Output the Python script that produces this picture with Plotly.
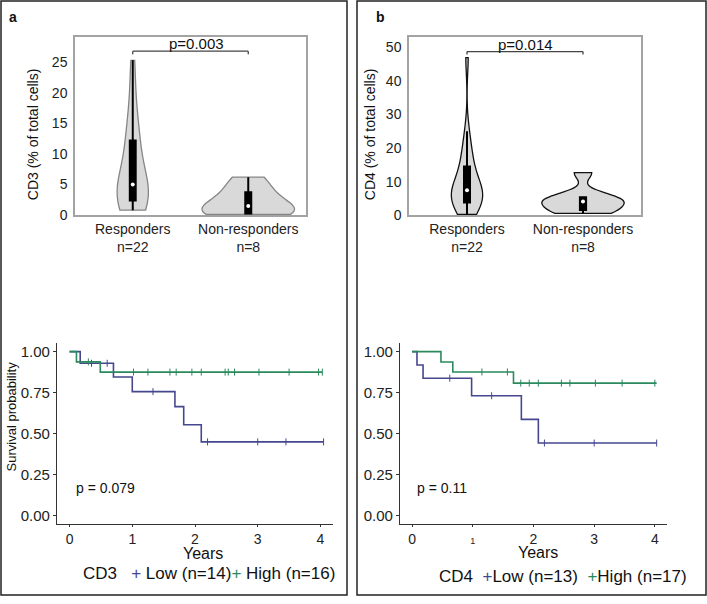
import numpy as np
import plotly.graph_objects as go

# ---------------- data ----------------
groups = ["Responders", "Non-responders"]
group_n = [22, 8]

cd3_responders = [0.8, 1.0, 1.4, 1.8, 2.2, 2.4, 2.6, 3.2, 3.8, 4.5, 4.9,
                  5.1, 5.8, 6.8, 8.5, 11.0, 12.2, 13.0, 14.0, 17.0, 21.0, 25.3]
cd3_nonresponders = [0.1, 0.2, 0.3, 1.0, 2.0, 3.0, 4.5, 6.2]
cd4_responders = [0.2, 1.5, 2.5, 3.2, 3.6, 3.8, 4.5, 5.5, 6.3, 7.0, 7.3,
                  7.5, 8.2, 9.0, 10.0, 12.5, 14.5, 16.0, 18.0, 21.0, 25.0, 47.0]
cd4_nonresponders = [0.5, 1.0, 2.0, 3.8, 4.4, 5.0, 5.6, 12.7]
p_violin = ["p=0.003", "p=0.014"]

# Kaplan-Meier step curves (time in years, survival probability)
cd3_low_time = [0, 0.17, 0.70, 1.00, 1.68, 1.82, 2.10, 4.05]
cd3_low_surv = [1.00, 0.929, 0.845, 0.756, 0.665, 0.554, 0.450, 0.450]
cd3_low_censor = [0.35, 0.60, 1.33, 2.20, 3.00, 3.45, 4.05]
cd3_high_time = [0, 0.11, 0.49, 4.03]
cd3_high_surv = [1.00, 0.9375, 0.875, 0.875]
cd3_high_censor = [0.30, 1.02, 1.25, 1.60, 1.70, 1.95, 2.10, 2.48, 2.53,
                   2.63, 3.02, 3.50, 3.97, 4.03]

cd4_low_time = [0, 0.08, 0.18, 0.98, 1.80, 2.08, 4.03]
cd4_low_surv = [1.00, 0.918, 0.838, 0.731, 0.587, 0.443, 0.443]
cd4_low_censor = [0.62, 1.31, 2.18, 3.00, 4.03]
cd4_high_time = [0, 0.475, 0.67, 1.67, 4.03]
cd4_high_surv = [1.00, 0.937, 0.876, 0.808, 0.808]
cd4_high_censor = [1.15, 1.57, 1.79, 1.93, 2.08, 2.46, 2.60, 3.02, 3.46, 4.00]

km_labels_cd3 = ["Low (n=14)", "High (n=16)"]
km_labels_cd4 = ["Low (n=13)", "High (n=17)"]
p_km = ["p = 0.079", "p = 0.11"]
km_yticks = [0, 0.25, 0.5, 0.75, 1.0]
km_xticks = [0, 1, 2, 3, 4]

# ---------------- style ----------------
W, H = 707, 604
FONT = "Liberation Sans, Arial, Helvetica, sans-serif"
BLUE = "#46478f"
GREEN = "#2a8a5c"
VFILL = "#d9d9d9"


def px_x(a, b):
    return [a / W, b / W]


def px_y(top, bottom):
    return [1 - bottom / H, 1 - top / H]


fig = go.Figure()

# ---------------- violins ----------------
violin_specs = [
    ("x", "y", cd3_responders, cd3_nonresponders, "#858585", [0.27, 0.80], [0.19, 0.065]),
    ("x2", "y2", cd4_responders, cd4_nonresponders, "#111111", [0.27, 0.71], [0.19, 0.075]),
]
for xa, ya, resp, nonresp, lc, widths, bws in violin_specs:
    for gi, vals in enumerate([resp, nonresp]):
        cat = groups[gi]
        fig.add_trace(go.Violin(
            x=[cat] * len(vals), y=vals, xaxis=xa, yaxis=ya,
            spanmode="hard", scalemode="width", width=widths[gi],
            fillcolor=VFILL, line=dict(color=lc, width=1.3),
            points=False, meanline_visible=False,
            box=dict(visible=True, width=bws[gi], fillcolor="black",
                     line=dict(color="black", width=2)),
            hoverinfo="skip", showlegend=False,
        ))
        fig.add_trace(go.Scatter(
            x=[cat], y=[float(np.median(vals))], xaxis=xa, yaxis=ya,
            mode="markers", marker=dict(color="white", size=4),
            hoverinfo="skip", showlegend=False,
        ))


# ---------------- KM curves ----------------
def surv_at(times, surv, t):
    idx = np.searchsorted(np.array(times), np.array(t), side="right") - 1
    return np.array(surv)[idx]


km_specs = [
    ("x3", "y3", [(cd3_low_time, cd3_low_surv, cd3_low_censor, BLUE),
                  (cd3_high_time, cd3_high_surv, cd3_high_censor, GREEN)]),
    ("x4", "y4", [(cd4_low_time, cd4_low_surv, cd4_low_censor, BLUE),
                  (cd4_high_time, cd4_high_surv, cd4_high_censor, GREEN)]),
]
for xa, ya, curves in km_specs:
    for t, s, c, col in curves:
        fig.add_trace(go.Scatter(
            x=t, y=s, xaxis=xa, yaxis=ya, mode="lines",
            line=dict(color=col, width=1.6, shape="hv"),
            hoverinfo="skip", showlegend=False,
        ))
        fig.add_trace(go.Scatter(
            x=c, y=surv_at(t, s, c), xaxis=xa, yaxis=ya, mode="markers",
            marker=dict(symbol="line-ns", size=5, line=dict(color=col, width=1)),
            hoverinfo="skip", showlegend=False,
        ))

# ---------------- axes ----------------
cat_ticks = [f"{g}<br>n={n}" for g, n in zip(groups, group_n)]
vio_x = dict(type="category", categoryorder="array", categoryarray=groups,
             range=[-0.5, 1.5], showline=True, mirror=True, linecolor="#a3a3a3",
             linewidth=1.5, ticks="", tickvals=groups, ticktext=cat_ticks,
             tickfont=dict(size=14, color="#222", family=FONT), showgrid=False,
             zeroline=False, fixedrange=True)
vio_y = dict(showline=True, mirror=True, linecolor="#a3a3a3", linewidth=1.5,
             ticks="", tickfont=dict(size=14, color="#222", family=FONT),
             showgrid=False, zeroline=False, ticklabelstandoff=3)

km_x = dict(range=[-0.2, 4.2], showline=True, linecolor="#333", linewidth=1.3,
            ticks="outside", ticklen=2, tickcolor="#333", tickvals=km_xticks,
            tickfont=dict(size=14, color="#222", family=FONT), showgrid=False,
            zeroline=False)
km_y = dict(range=[-0.05, 1.05], showline=True, linecolor="#333", linewidth=1.3,
            ticks="outside", ticklen=3, tickcolor="#333", tickvals=km_yticks,
            tickformat=".2f", tickfont=dict(size=15, color="#222", family=FONT),
            showgrid=False, zeroline=False)

fig.update_layout(
    xaxis=dict(vio_x, domain=px_x(75, 306), anchor="y"),
    yaxis=dict(vio_y, domain=px_y(37, 218), anchor="x", range=[0, 29.2],
               tickvals=[0, 5, 10, 15, 20, 25]),
    xaxis2=dict(vio_x, domain=px_x(409, 641), anchor="y2"),
    yaxis2=dict(vio_y, domain=px_y(38, 218), anchor="x2", range=[0, 53],
                tickvals=[0, 10, 20, 30, 40, 50]),
    xaxis3=dict(km_x, domain=px_x(57, 333), anchor="y3"),
    yaxis3=dict(km_y, domain=px_y(348, 531), anchor="x3"),
    xaxis4=dict(km_x, domain=px_x(400, 667), anchor="y4",
                ticktext=["0", "<span style='font-size:9px;color:#222'>1</span>",
                          "2", "3", "4"]),
    yaxis4=dict(km_y, domain=px_y(348, 531), anchor="x4"),
    width=W, height=H, margin=dict(l=0, r=0, t=0, b=0),
    paper_bgcolor="white", plot_bgcolor="white",
    font=dict(family=FONT, color="#222"),
)

# ---------------- annotations & shapes ----------------
ann = []


def add_text(text, x, y, size=14, angle=0, bold=False, xanchor="center"):
    ann.append(dict(text=f"<b>{text}</b>" if bold else text, x=x / W, y=1 - y / H,
                    xref="paper", yref="paper", showarrow=False, textangle=angle,
                    font=dict(size=size, family=FONT, color="#111"),
                    xanchor=xanchor, yanchor="middle", borderpad=0))


add_text("a", 13, 17, size=14, bold=True)
add_text("b", 380, 17, size=14, bold=True)
add_text("CD3 (% of total cells)", 33, 137, size=14, angle=-90)
add_text("CD4 (% of total cells)", 370, 137, size=14, angle=-90)
add_text("Survival probability", 11, 422, size=13, angle=-90)
add_text("Years", 203, 561, size=16)
add_text("Years", 538, 560, size=16)
add_text(p_km[0], 105, 495, size=14)
add_text(p_km[1], 442, 495, size=14)

leg3 = (f"CD3&nbsp;&nbsp;&nbsp;<span style='color:{BLUE}'>+</span>&nbsp;{km_labels_cd3[0]}"
        f"<span style='color:{GREEN}'>+</span>&nbsp;{km_labels_cd3[1]}")
leg4 = (f"CD4&nbsp;&nbsp;<span style='color:{BLUE}'>+</span>{km_labels_cd4[0]}&nbsp;&nbsp;"
        f"<span style='color:{GREEN}'>+</span>{km_labels_cd4[1]}")
add_text(leg3, 82, 581, size=17, xanchor="left")
add_text(leg4, 438, 584, size=17, xanchor="left")

# p-value brackets on violins
shapes = []
for xa, ya, ytop, ytick, p, px_off in [("x", "y", 26.8, 26.3, p_violin[0], 0.55),
                                       ("x2", "y2", 48.8, 47.9, p_violin[1], 0.5)]:
    for x0, y0, x1, y1 in [(0, ytop, 1, ytop), (0, ytop, 0, ytick), (1, ytop, 1, ytick)]:
        shapes.append(dict(type="line", xref=xa, yref=ya, x0=x0, y0=y0, x1=x1, y1=y1,
                           line=dict(color="#444", width=1.3)))
    ann.append(dict(text=p, x=px_off, y=ytop, xref=xa, yref=ya, showarrow=False,
                    yanchor="bottom", yshift=-3,
                    font=dict(size=15, family=FONT, color="#111")))

# panel borders
for x0, x1 in [(1, 347), (357, 706)]:
    shapes.append(dict(type="rect", xref="paper", yref="paper", x0=x0 / W, x1=x1 / W,
                       y0=1 - 603 / H, y1=1 - 1 / H, line=dict(color="#222", width=1.5)))

fig.update_layout(annotations=ann, shapes=shapes)

post = (
    "document.body.style.margin='0';"
    "document.body.style.overflow='hidden';"
    "document.documentElement.style.overflow='hidden';"
)
fig.write_html("out.html", post_script=post, config={"displayModeBar": False})
